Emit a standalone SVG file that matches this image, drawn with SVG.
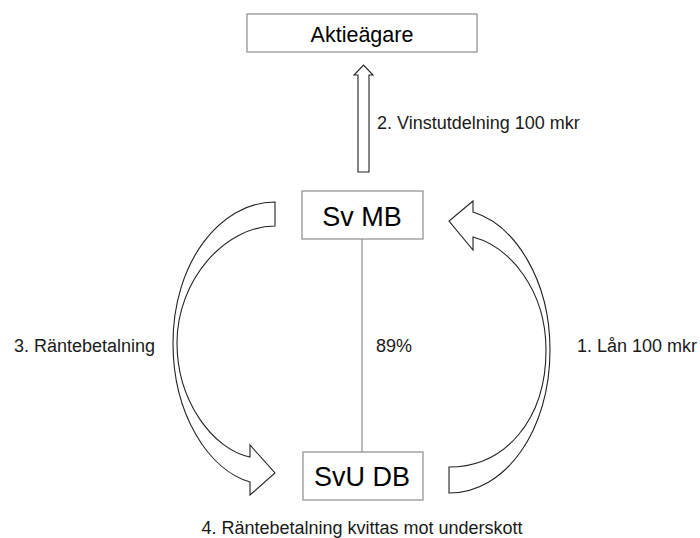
<svg xmlns="http://www.w3.org/2000/svg" width="700" height="538" viewBox="0 0 700 538">
<style>
.box{fill:#fff;stroke:#8c8c8c;stroke-width:1.2}
.big{font-family:"Liberation Sans",Arial,sans-serif;font-size:27px;fill:#000;text-anchor:middle}
.lbl{font-family:"Liberation Sans",Arial,sans-serif;font-size:18px;fill:#1a1a1a}
.arr{fill:#fff;stroke:#222;stroke-width:1.1;stroke-linejoin:miter}
.ln{stroke:#8c8c8c;stroke-width:1.2;fill:none}
</style>
<rect width="700" height="538" fill="#fff"/>
<g id="connectors">
<line class="ln" x1="362" y1="239" x2="362" y2="452"/>
<path id="arrow-up" class="arr" d="M358 172 L358 75 L354 75 L363.5 65 L373 75 L369 75 L369 172 Z"/>
<path id="arrow-left" class="arr" d="M275 202 C219 202 173 264 173 343 C173 415 209 470 250 482 L250 495 L275 473 L250 445 L250 457 C212 449 177 400 177 343 C177 280 225 226 275 226 Z"/>
<path id="arrow-right" class="arr" d="M449 493 C506 493 550 430 550 350 C550 280 515 225 473 212 L473 201 L449 221 L473 250 L473 237 C510 247 546 290 546 350 C546 420 505 467 449 467 Z"/>
<text class="lbl" x="377" y="129">2. Vinstutdelning 100 mkr</text>
<text class="lbl" x="14" y="352">3. Räntebetalning</text>
<text class="lbl" x="376" y="352">89%</text>
<text class="lbl" x="577" y="352">1. Lån 100 mkr</text>
<text class="lbl" x="362" y="534" text-anchor="middle">4. Räntebetalning kvittas mot underskott</text>
</g>
<g id="aktieagare">
<rect class="box" x="247" y="14" width="230" height="38"/>
<text class="big" x="362" y="42" style="font-size:21.5px">Aktieägare</text>
</g>
<g id="svmb">
<rect class="box" x="302" y="191" width="121" height="48"/>
<text class="big" x="362" y="226">Sv MB</text>
</g>
<g id="svudb">
<rect class="box" x="303" y="452" width="120" height="48"/>
<text class="big" x="362" y="486">SvU DB</text>
</g>
</svg>
